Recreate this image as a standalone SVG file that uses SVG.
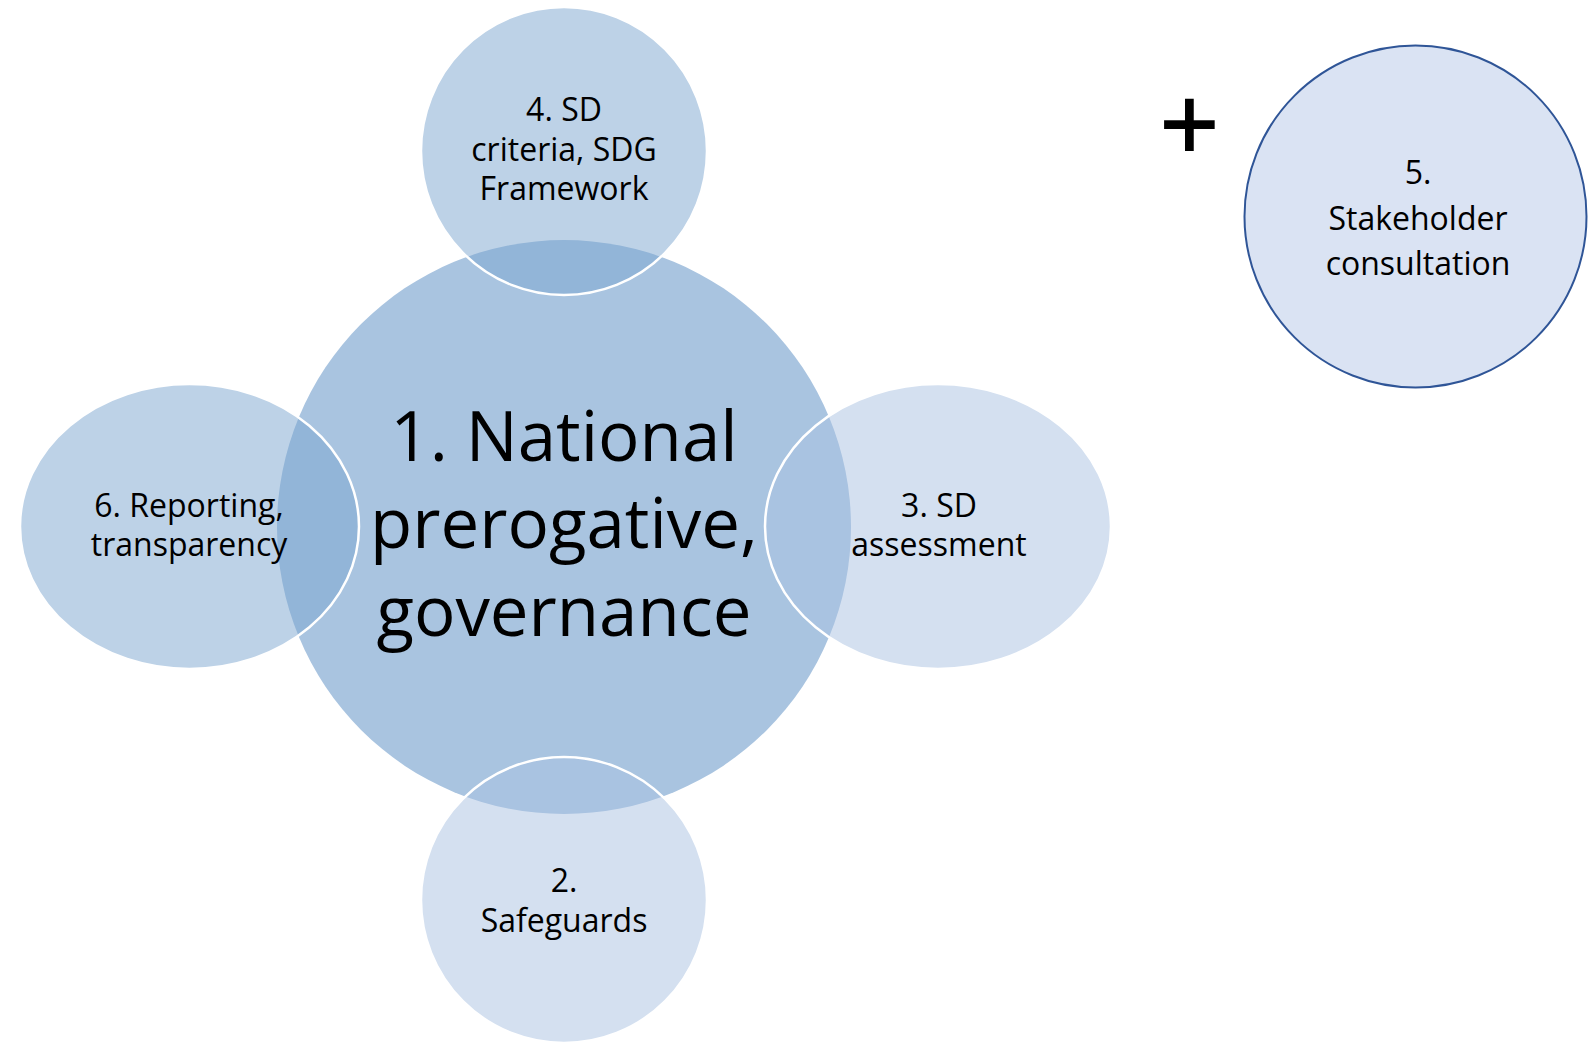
<svg xmlns="http://www.w3.org/2000/svg" width="1588" height="1042" viewBox="0 0 1588 1042">
<style>
text{font-family:"Open Sans","Noto Sans",sans-serif;fill:#000;text-anchor:middle}
.md{font-size:32px}
.big{font-size:69px}
.darkSat{fill:rgb(123,165,207);fill-opacity:0.5;stroke:#fff;stroke-width:2.5}
.lightSat{fill:rgb(169,193,225);fill-opacity:0.5;stroke:#fff;stroke-width:2.5}
</style>
<rect width="1588" height="1042" fill="#fff"/>
<g id="connectors"></g>
<g id="node1">
<circle cx="564" cy="527" r="287" fill="#A9C4E0"/>
<text class="big" x="564" y="461">1. National</text>
<text class="big" x="564" y="548">prerogative,</text>
<text class="big" x="564" y="636">governance</text>
</g>
<g id="node4">
<ellipse class="darkSat" cx="564" cy="151" rx="143" ry="144"/>
<text class="md" x="564" y="121">4. SD</text>
<text class="md" x="564" y="161">criteria, SDG</text>
<text class="md" x="564" y="200">Framework</text>
</g>
<g id="node6">
<ellipse class="darkSat" cx="189.5" cy="526.5" rx="169.5" ry="142.5"/>
<text class="md" x="189" y="517">6. Reporting,</text>
<text class="md" x="189" y="556">transparency</text>
</g>
<g id="node3">
<ellipse class="lightSat" cx="938" cy="526.5" rx="173" ry="142.5"/>
<text class="md" x="939" y="517">3. SD</text>
<text class="md" x="939" y="556">assessment</text>
</g>
<g id="node2">
<ellipse class="lightSat" cx="564" cy="900" rx="143" ry="143"/>
<text class="md" x="564" y="892">2.</text>
<text class="md" x="564" y="932">Safeguards</text>
</g>
<g id="plus">
<text x="1189.5" y="162" style="font-size:104px;stroke:#000;stroke-width:1.8">+</text>
</g>
<g id="node5">
<circle cx="1415.5" cy="216.5" r="171" fill="#DAE3F3" stroke="#2F5597" stroke-width="2"/>
<text class="md" x="1418" y="184">5.</text>
<text class="md" x="1418" y="230">Stakeholder</text>
<text class="md" x="1418" y="275">consultation</text>
</g>
</svg>
